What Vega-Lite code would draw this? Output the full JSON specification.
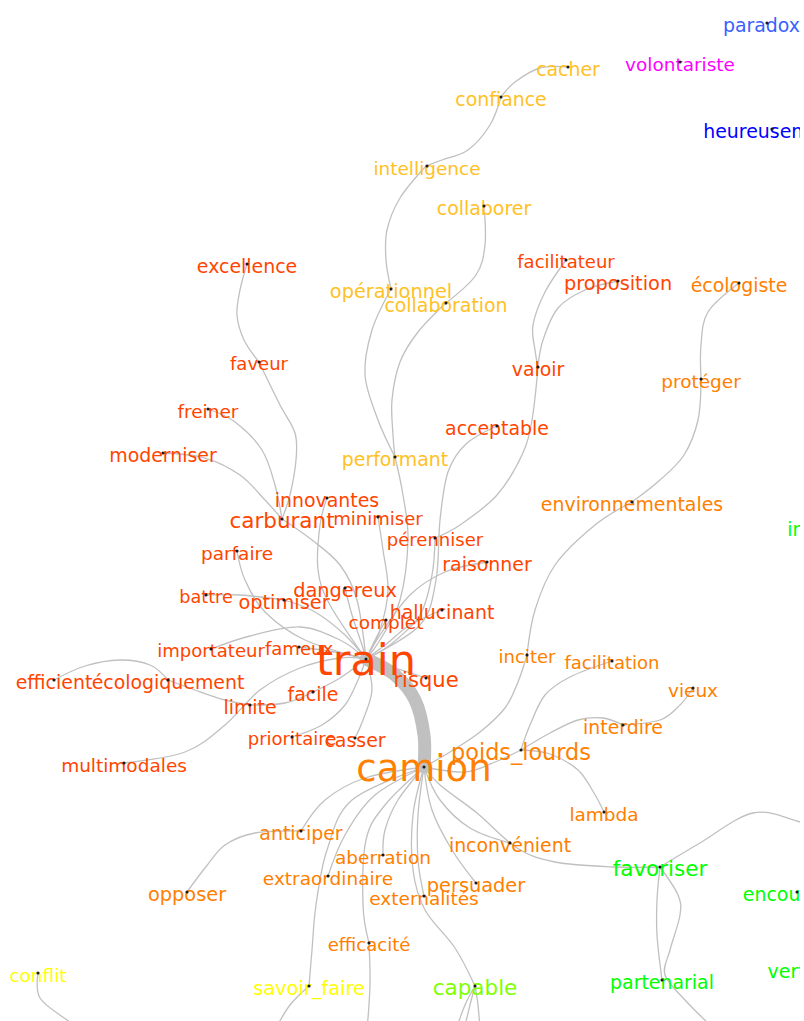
{
  "$schema": "https://vega.github.io/schema/vega-lite/v6.json",
  "width": 800,
  "height": 1021,
  "autosize": {"type": "none"},
  "padding": 0,
  "background": "white",
  "config": {"view": {"stroke": null}},
  "datasets": {
    "nodes": [
      {"mot": "paradoxe", "x": 767, "y": 23, "classe": "bleu2", "freq": 44},
      {"mot": "volontariste", "x": 680, "y": 62, "classe": "magenta", "freq": 43},
      {"mot": "heureusement", "x": 772, "y": 129, "classe": "bleu", "freq": 44},
      {"mot": "cacher", "x": 568, "y": 67, "classe": "or", "freq": 44},
      {"mot": "confiance", "x": 501, "y": 97, "classe": "or", "freq": 44},
      {"mot": "intelligence", "x": 427, "y": 166, "classe": "or", "freq": 43},
      {"mot": "collaborer", "x": 484, "y": 206, "classe": "or", "freq": 44},
      {"mot": "opérationnel", "x": 391, "y": 289, "classe": "or", "freq": 45},
      {"mot": "collaboration", "x": 446, "y": 303, "classe": "or", "freq": 44},
      {"mot": "performant", "x": 395, "y": 457, "classe": "or", "freq": 44},
      {"mot": "excellence", "x": 247, "y": 264, "classe": "rouge", "freq": 44},
      {"mot": "facilitateur", "x": 566, "y": 260, "classe": "rouge", "freq": 42},
      {"mot": "proposition", "x": 618, "y": 281, "classe": "rouge", "freq": 45},
      {"mot": "faveur", "x": 259, "y": 362, "classe": "rouge", "freq": 42},
      {"mot": "valoir", "x": 538, "y": 367, "classe": "rouge", "freq": 44},
      {"mot": "freiner", "x": 208, "y": 409, "classe": "rouge", "freq": 43},
      {"mot": "acceptable", "x": 497, "y": 426, "classe": "rouge", "freq": 44},
      {"mot": "moderniser", "x": 163, "y": 453, "classe": "rouge", "freq": 44},
      {"mot": "innovantes", "x": 327, "y": 498, "classe": "rouge", "freq": 44},
      {"mot": "carburant", "x": 282, "y": 519, "classe": "rouge", "freq": 50},
      {"mot": "minimiser", "x": 378, "y": 517, "classe": "rouge", "freq": 42},
      {"mot": "pérenniser", "x": 435, "y": 538, "classe": "rouge", "freq": 42},
      {"mot": "parfaire", "x": 237, "y": 551, "classe": "rouge", "freq": 43},
      {"mot": "raisonner", "x": 487, "y": 562, "classe": "rouge", "freq": 44},
      {"mot": "dangereux", "x": 345, "y": 588, "classe": "rouge", "freq": 45},
      {"mot": "battre", "x": 206, "y": 595, "classe": "rouge", "freq": 41},
      {"mot": "optimiser", "x": 284, "y": 600, "classe": "rouge", "freq": 45},
      {"mot": "hallucinant", "x": 442, "y": 610, "classe": "rouge", "freq": 44},
      {"mot": "complet", "x": 386, "y": 620, "classe": "rouge", "freq": 43},
      {"mot": "importateur", "x": 211, "y": 649, "classe": "rouge", "freq": 42},
      {"mot": "fameux", "x": 299, "y": 647, "classe": "rouge", "freq": 42},
      {"mot": "train", "x": 366, "y": 659, "classe": "rouge", "freq": 100},
      {"mot": "risque", "x": 426, "y": 678, "classe": "rouge", "freq": 49},
      {"mot": "efficient", "x": 54, "y": 680, "classe": "rouge", "freq": 44},
      {"mot": "écologiquement", "x": 168, "y": 680, "classe": "rouge", "freq": 44},
      {"mot": "facile", "x": 313, "y": 692, "classe": "rouge", "freq": 44},
      {"mot": "limite", "x": 250, "y": 705, "classe": "rouge", "freq": 44},
      {"mot": "prioritaire", "x": 292, "y": 737, "classe": "rouge", "freq": 42},
      {"mot": "casser", "x": 355, "y": 738, "classe": "rouge", "freq": 44},
      {"mot": "multimodales", "x": 124, "y": 763, "classe": "rouge", "freq": 43},
      {"mot": "écologiste", "x": 739, "y": 283, "classe": "orange", "freq": 44},
      {"mot": "protéger", "x": 701, "y": 379, "classe": "orange", "freq": 43},
      {"mot": "environnementales", "x": 632, "y": 502, "classe": "orange", "freq": 44},
      {"mot": "inciter", "x": 527, "y": 655, "classe": "orange", "freq": 42},
      {"mot": "facilitation", "x": 612, "y": 661, "classe": "orange", "freq": 42},
      {"mot": "vieux", "x": 693, "y": 688, "classe": "orange", "freq": 43},
      {"mot": "interdire", "x": 623, "y": 725, "classe": "orange", "freq": 44},
      {"mot": "poids_lourds", "x": 521, "y": 750, "classe": "orange", "freq": 52},
      {"mot": "camion", "x": 424, "y": 767, "classe": "orange", "freq": 86},
      {"mot": "lambda", "x": 604, "y": 812, "classe": "orange", "freq": 43},
      {"mot": "anticiper", "x": 301, "y": 831, "classe": "orange", "freq": 44},
      {"mot": "inconvénient", "x": 510, "y": 843, "classe": "orange", "freq": 44},
      {"mot": "aberration", "x": 383, "y": 855, "classe": "orange", "freq": 43},
      {"mot": "extraordinaire", "x": 328, "y": 876, "classe": "orange", "freq": 43},
      {"mot": "persuader", "x": 476, "y": 883, "classe": "orange", "freq": 45},
      {"mot": "opposer", "x": 187, "y": 892, "classe": "orange", "freq": 45},
      {"mot": "externalités", "x": 424, "y": 896, "classe": "orange", "freq": 43},
      {"mot": "efficacité", "x": 369, "y": 943, "classe": "orange", "freq": 42},
      {"mot": "conflit", "x": 38, "y": 973, "classe": "jaune", "freq": 43},
      {"mot": "savoir_faire", "x": 309, "y": 986, "classe": "jaune", "freq": 45},
      {"mot": "capable", "x": 475, "y": 986, "classe": "chartreuse", "freq": 50},
      {"mot": "favoriser", "x": 660, "y": 867, "classe": "vert", "freq": 50},
      {"mot": "partenarial", "x": 662, "y": 980, "classe": "vert", "freq": 44},
      {"mot": "encourager", "x": 797, "y": 892, "classe": "vert", "freq": 44},
      {"mot": "impliquer", "x": 832, "y": 527, "classe": "vert", "freq": 44},
      {"mot": "vertueux", "x": 810, "y": 969, "classe": "vert", "freq": 44}
    ],
    "edges": [
      {"e": "cacher-confiance", "w": 1, "xs": [568, 540, 515, 501], "ys": [67, 68, 82, 97]},
      {"e": "confiance-intelligence", "w": 1, "xs": [501, 490, 468, 442, 426], "ys": [97, 125, 150, 160, 166]},
      {"e": "intelligence-operationnel", "w": 1, "xs": [426, 400, 387, 386, 391], "ys": [166, 198, 230, 260, 289]},
      {"e": "operationnel-performant", "w": 1, "xs": [391, 372, 365, 378, 395], "ys": [289, 330, 375, 420, 457]},
      {"e": "collaborer-collaboration", "w": 1, "xs": [484, 485, 476, 446], "ys": [206, 245, 275, 303]},
      {"e": "collaboration-performant", "w": 1, "xs": [446, 418, 400, 392, 393, 395], "ys": [303, 332, 362, 400, 435, 457]},
      {"e": "performant-train", "w": 1, "xs": [395, 403, 408, 400, 380, 366], "ys": [457, 495, 540, 600, 640, 659]},
      {"e": "excellence-faveur", "w": 1, "xs": [247, 240, 237, 244, 259], "ys": [264, 290, 315, 340, 362]},
      {"e": "faveur-carburant", "w": 1, "xs": [259, 280, 295, 296, 290, 282], "ys": [362, 405, 433, 460, 495, 519]},
      {"e": "freiner-carburant", "w": 1, "xs": [208, 235, 262, 275, 282], "ys": [409, 422, 450, 485, 519]},
      {"e": "moderniser-carburant", "w": 1, "xs": [163, 205, 240, 265, 282], "ys": [453, 458, 475, 500, 519]},
      {"e": "carburant-train", "w": 1, "xs": [282, 312, 340, 357, 366], "ys": [519, 540, 565, 600, 659]},
      {"e": "innovantes-train", "w": 1, "xs": [327, 320, 318, 330, 366], "ys": [498, 525, 570, 605, 659]},
      {"e": "minimiser-train", "w": 1, "xs": [378, 383, 388, 380, 366], "ys": [517, 550, 590, 630, 659]},
      {"e": "perenniser-train", "w": 1, "xs": [435, 432, 420, 390, 366], "ys": [538, 575, 615, 645, 659]},
      {"e": "facilitateur-valoir", "w": 1, "xs": [566, 545, 533, 535, 538], "ys": [260, 292, 325, 350, 367]},
      {"e": "proposition-valoir", "w": 1, "xs": [618, 585, 558, 543, 538], "ys": [281, 290, 308, 340, 367]},
      {"e": "valoir-perenniser", "w": 1, "xs": [538, 532, 522, 497, 460, 435], "ys": [367, 420, 455, 495, 525, 538]},
      {"e": "acceptable-train", "w": 1, "xs": [497, 466, 448, 440, 436, 420, 366], "ys": [426, 444, 472, 520, 580, 625, 659]},
      {"e": "raisonner-train", "w": 1, "xs": [487, 445, 410, 380, 366], "ys": [562, 572, 595, 635, 659]},
      {"e": "hallucinant-train", "w": 1, "xs": [442, 410, 385, 366], "ys": [610, 625, 645, 659]},
      {"e": "complet-train", "w": 1, "xs": [386, 375, 366], "ys": [620, 640, 659]},
      {"e": "dangereux-train", "w": 1, "xs": [345, 352, 362, 366], "ys": [588, 615, 645, 659]},
      {"e": "parfaire-train", "w": 1, "xs": [237, 245, 265, 305, 366], "ys": [551, 580, 612, 640, 659]},
      {"e": "battre-optimiser", "w": 1, "xs": [206, 240, 284], "ys": [595, 595, 600]},
      {"e": "optimiser-train", "w": 1, "xs": [284, 315, 345, 366], "ys": [600, 612, 635, 659]},
      {"e": "importateur-train", "w": 1, "xs": [211, 250, 300, 340, 366], "ys": [649, 636, 627, 640, 659]},
      {"e": "fameux-train", "w": 1, "xs": [299, 335, 366], "ys": [647, 652, 659]},
      {"e": "efficient-ecologiquement", "w": 1, "xs": [54, 85, 120, 150, 168], "ys": [680, 666, 660, 665, 680]},
      {"e": "ecologiquement-limite", "w": 1, "xs": [168, 195, 225, 250], "ys": [680, 690, 700, 705]},
      {"e": "limite-facile", "w": 1, "xs": [250, 285, 313], "ys": [705, 703, 692]},
      {"e": "facile-train", "w": 1, "xs": [313, 340, 366], "ys": [692, 678, 659]},
      {"e": "multimodales-train", "w": 1, "xs": [124, 185, 225, 260, 300, 340, 366], "ys": [763, 752, 725, 690, 668, 658, 659]},
      {"e": "prioritaire-train", "w": 1, "xs": [292, 322, 345, 358, 366], "ys": [737, 725, 705, 680, 659]},
      {"e": "casser-train", "w": 1, "xs": [355, 363, 372, 366], "ys": [738, 720, 690, 659]},
      {"e": "risque-train", "w": 1, "xs": [426, 395, 366], "ys": [678, 668, 659]},
      {"e": "train-camion", "w": 12, "xs": [366, 395, 415, 424, 424], "ys": [659, 675, 700, 735, 767]},
      {"e": "camion-poids_lourds", "w": 1, "xs": [424, 465, 495, 521], "ys": [767, 772, 762, 750]},
      {"e": "poids_lourds-interdire", "w": 1, "xs": [521, 550, 578, 603, 623], "ys": [750, 733, 720, 718, 725]},
      {"e": "interdire-vieux", "w": 1, "xs": [623, 660, 680, 693], "ys": [725, 720, 705, 688]},
      {"e": "poids_lourds-lambda", "w": 1, "xs": [521, 550, 578, 594, 604], "ys": [750, 754, 770, 793, 812]},
      {"e": "facilitation-poids_lourds", "w": 1, "xs": [612, 570, 545, 530, 521], "ys": [661, 677, 695, 725, 750]},
      {"e": "environnementales-inciter", "w": 1, "xs": [632, 595, 555, 535, 527], "ys": [502, 525, 565, 610, 655]},
      {"e": "inciter-camion", "w": 1, "xs": [527, 518, 505, 480, 450, 424], "ys": [655, 682, 708, 732, 752, 767]},
      {"e": "environnementales-proteger", "w": 1, "xs": [632, 660, 684, 698, 701], "ys": [502, 480, 455, 420, 379]},
      {"e": "proteger-ecologiste", "w": 1, "xs": [701, 701, 708, 739], "ys": [379, 345, 312, 283]},
      {"e": "camion-inconvenient", "w": 1, "xs": [424, 440, 470, 510], "ys": [767, 800, 828, 843]},
      {"e": "camion-favoriser", "w": 1, "xs": [424, 440, 477, 517, 555, 613, 660], "ys": [767, 785, 813, 848, 862, 867, 867]},
      {"e": "camion-persuader", "w": 1, "xs": [424, 432, 452, 476], "ys": [767, 810, 850, 883]},
      {"e": "camion-externalites", "w": 1, "xs": [424, 418, 418, 424], "ys": [767, 815, 860, 896]},
      {"e": "camion-aberration", "w": 1, "xs": [424, 398, 385, 383], "ys": [767, 800, 830, 855]},
      {"e": "camion-extraordinaire", "w": 1, "xs": [424, 375, 345, 328], "ys": [767, 795, 835, 876]},
      {"e": "camion-anticiper", "w": 1, "xs": [424, 365, 325, 301], "ys": [767, 778, 800, 831]},
      {"e": "anticiper-opposer", "w": 1, "xs": [301, 255, 225, 205, 187], "ys": [831, 833, 845, 868, 892]},
      {"e": "camion-efficacite", "w": 1, "xs": [424, 385, 366, 363, 369], "ys": [767, 805, 840, 905, 943]},
      {"e": "efficacite-bas", "w": 1, "xs": [369, 370, 367], "ys": [943, 985, 1030]},
      {"e": "camion-savoir_faire", "w": 1, "xs": [424, 352, 327, 316, 312, 309], "ys": [767, 800, 850, 905, 950, 986]},
      {"e": "savoir_faire-bas", "w": 1, "xs": [309, 290, 275], "ys": [986, 1005, 1030]},
      {"e": "camion-capable", "w": 1, "xs": [424, 413, 413, 425, 455, 475], "ys": [767, 815, 870, 910, 948, 986]},
      {"e": "capable-bas1", "w": 1, "xs": [475, 465, 456], "ys": [986, 1005, 1030]},
      {"e": "capable-bas2", "w": 1, "xs": [475, 470, 464], "ys": [986, 1005, 1030]},
      {"e": "capable-bas3", "w": 1, "xs": [475, 478, 480], "ys": [986, 1005, 1030]},
      {"e": "conflit-bas", "w": 1, "xs": [38, 40, 67, 90], "ys": [973, 998, 1020, 1035]},
      {"e": "favoriser-partenarial", "w": 1, "xs": [660, 657, 657, 662], "ys": [867, 900, 935, 980]},
      {"e": "favoriser-bas", "w": 1, "xs": [660, 678, 680, 670, 665, 685, 710], "ys": [867, 895, 915, 950, 975, 1000, 1025]},
      {"e": "favoriser-droite", "w": 1, "xs": [660, 700, 753, 800, 840], "ys": [867, 843, 813, 822, 835]}
    ]
  },
  "layer": [
    {
      "data": {"name": "edges"},
      "transform": [{"flatten": ["xs", "ys"], "as": ["px", "py"]}],
      "mark": {"type": "line", "interpolate": "cardinal", "color": "#c0c0c0", "clip": true, "strokeCap": "round"},
      "encoding": {
        "x": {"field": "px", "type": "quantitative", "scale": {"domain": [0, 800], "nice": false, "zero": false}, "axis": null},
        "y": {"field": "py", "type": "quantitative", "scale": {"domain": [0, 1021], "nice": false, "zero": false, "reverse": true}, "axis": null},
        "detail": {"field": "e", "type": "nominal"},
        "order": {"value": null},
        "strokeWidth": {"field": "w", "type": "quantitative", "scale": {"domain": [1, 12], "range": [1.3, 13]}, "legend": null}
      }
    },
    {
      "data": {"name": "nodes"},
      "mark": {"type": "text", "font": "DejaVu Sans", "align": "center", "baseline": "middle", "dy": 2.5, "clip": true},
      "encoding": {
        "x": {"field": "x", "type": "quantitative"},
        "y": {"field": "y", "type": "quantitative"},
        "text": {"field": "mot", "type": "nominal"},
        "color": {"field": "classe", "type": "nominal", "legend": null,
          "scale": {"domain": ["rouge", "orange", "or", "jaune", "chartreuse", "vert", "bleu", "bleu2", "magenta"],
                    "range": ["#FF4500", "#FF8000", "#FFC125", "#FFFF00", "#80FF00", "#00FF00", "#0000FF", "#3A5FFF", "#FF00FF"]}},
        "size": {"field": "freq", "type": "quantitative", "legend": null, "scale": {"domain": [0, 100], "range": [0, 43]}}
      }
    },
    {
      "data": {"name": "nodes"},
      "mark": {"type": "point", "filled": true, "color": "#1a1a1a", "opacity": 1, "size": 10, "clip": true},
      "encoding": {
        "x": {"field": "x", "type": "quantitative"},
        "y": {"field": "y", "type": "quantitative"}
      }
    }
  ]
}
